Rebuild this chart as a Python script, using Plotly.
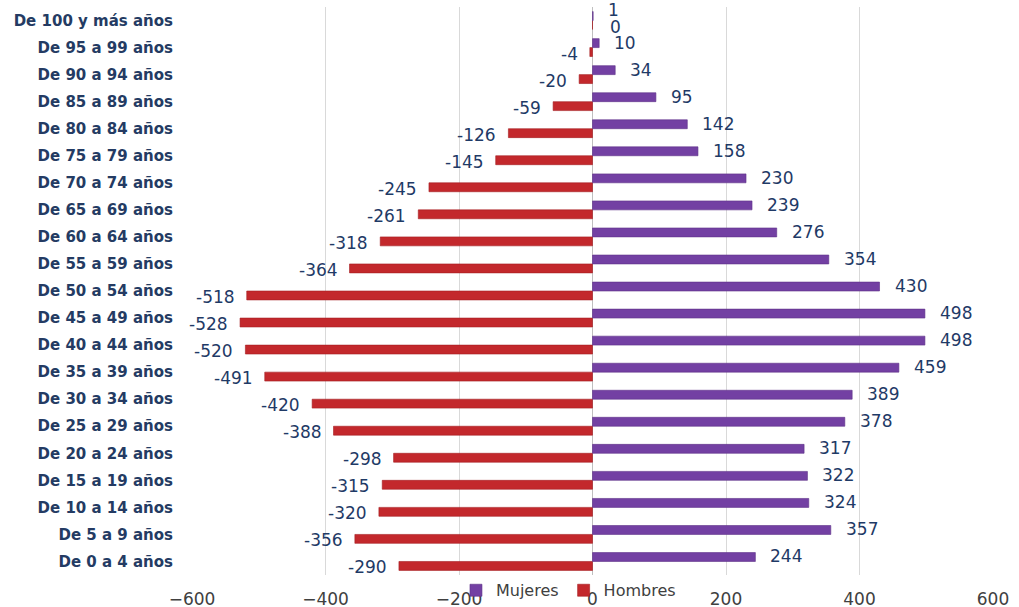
import plotly.graph_objects as go

# Age groups, listed from youngest (bottom) to oldest (top)
grupos = [
    "De 0 a 4 años", "De 5 a 9 años", "De 10 a 14 años", "De 15 a 19 años",
    "De 20 a 24 años", "De 25 a 29 años", "De 30 a 34 años", "De 35 a 39 años",
    "De 40 a 44 años", "De 45 a 49 años", "De 50 a 54 años", "De 55 a 59 años",
    "De 60 a 64 años", "De 65 a 69 años", "De 70 a 74 años", "De 75 a 79 años",
    "De 80 a 84 años", "De 85 a 89 años", "De 90 a 94 años", "De 95 a 99 años",
    "De 100 y más años",
]
mujeres = [244, 357, 324, 322, 317, 378, 389, 459, 498, 498, 430, 354,
           276, 239, 230, 158, 142, 95, 34, 10, 1]
hombres = [-290, -356, -320, -315, -298, -388, -420, -491, -520, -528, -518, -364,
           -318, -261, -245, -145, -126, -59, -20, -4, 0]
x_ticks = [-600, -400, -200, 0, 200, 400, 600]

COLOR_MUJERES = "#7340a3"
COLOR_HOMBRES = "#c3282c"
LABEL_COLOR = "#1f3a66"
FONT = "DejaVu Sans"

fig = go.Figure()
fig.add_trace(go.Bar(
    y=grupos, x=hombres, orientation="h", name="Hombres",
    marker=dict(color=COLOR_HOMBRES, line=dict(color="#a51e22", width=0.6)),
    legendrank=2,
))
fig.add_trace(go.Bar(
    y=grupos, x=mujeres, orientation="h", name="Mujeres",
    marker=dict(color=COLOR_MUJERES, line=dict(color="#5e3088", width=0.6)),
    legendrank=1,
))

# Value labels beside each bar end; tiny values are nudged apart vertically
annotations = []
for g, v in zip(grupos, mujeres):
    annotations.append(dict(
        x=v, y=g, xref="x", yref="y", text=str(v), showarrow=False,
        xanchor="left", xshift=13, yshift=5 if v > 1 else 11,
        font=dict(family=FONT, size=17, color=LABEL_COLOR),
    ))
for g, v in zip(grupos, hombres):
    neg = v < 0
    annotations.append(dict(
        x=v, y=g, xref="x", yref="y", text=str(v), showarrow=False,
        xanchor="right" if neg else "left", xshift=-10 if neg else 15,
        yshift=-6,
        font=dict(family=FONT, size=17, color=LABEL_COLOR),
    ))

fig.update_layout(
    width=1019, height=607,
    margin=dict(l=192, r=26, t=7, b=32, autoexpand=False),
    paper_bgcolor="white", plot_bgcolor="white",
    barmode="group", bargap=0.34, bargroupgap=0,
    annotations=annotations,
    showlegend=True,
    legend=dict(
        orientation="h", x=0.47, xanchor="center", y=-0.027, yanchor="middle",
        font=dict(family=FONT, size=16, color="#404040"),
        bgcolor="rgba(0,0,0,0)", itemwidth=30, tracegroupgap=0,
    ),
    xaxis=dict(
        range=[-600, 600], tickvals=x_ticks,
        showgrid=True, gridcolor="#d9d9d9", gridwidth=1,
        zeroline=True, zerolinecolor="#bfbfbf", zerolinewidth=1,
        showline=False, ticks="",
        tickfont=dict(family=FONT, size=17, color="#404040"),
        ticklabelstandoff=12,
    ),
    yaxis=dict(
        categoryorder="array", categoryarray=grupos,
        range=[-0.5, len(grupos) - 0.5],
        showgrid=False, showline=False, ticks="",
        tickfont=dict(family=FONT, size=15, color="#243b63", weight="bold"),
        ticklabelstandoff=18,
    ),
)

fig.write_html("out.html")
